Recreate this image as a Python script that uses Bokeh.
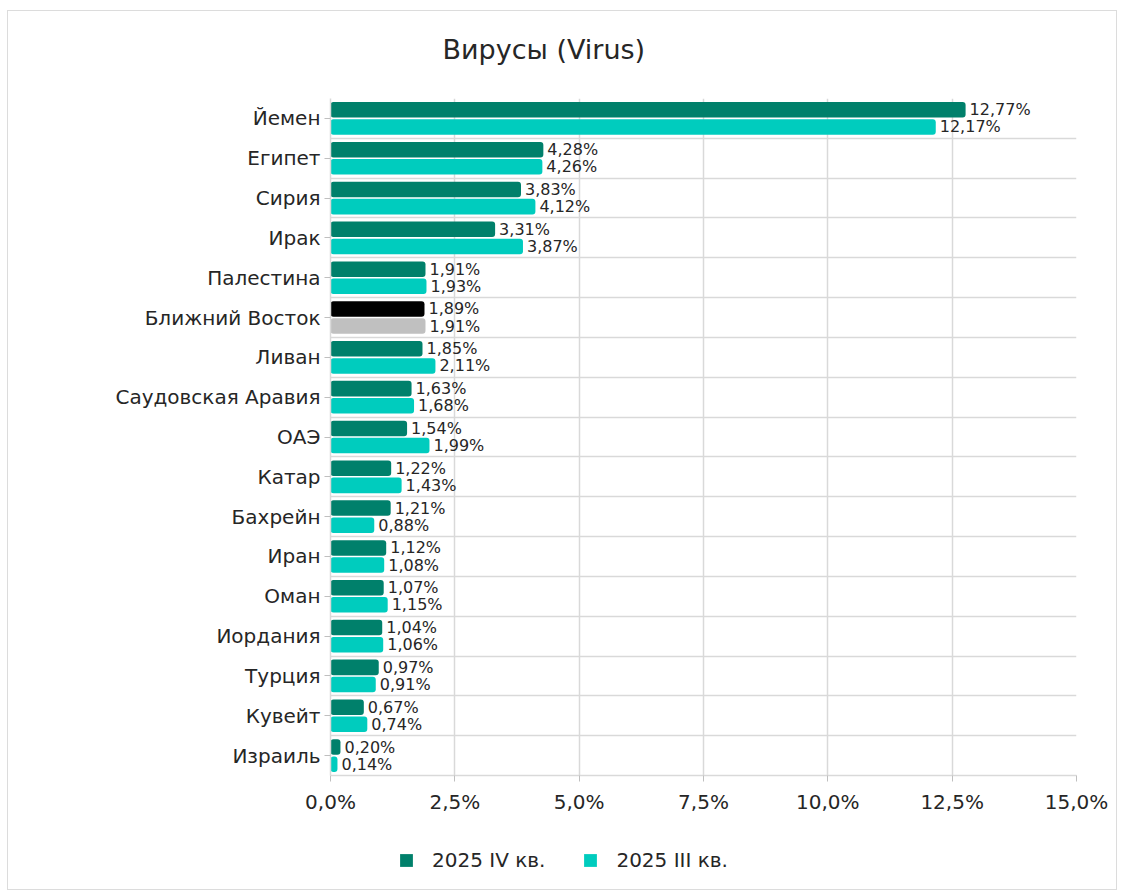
from bokeh.plotting import figure
from bokeh.layouts import column
from bokeh.models import ColumnDataSource, Range1d, FixedTicker, Legend, LegendItem
from bokeh.core.properties import value
from bokeh.embed import file_html
from bokeh.resources import INLINE

# ---- data ----
title_text = "Вирусы (Virus)"
countries = ["Йемен", "Египет", "Сирия", "Ирак", "Палестина", "Ближний Восток", "Ливан",
             "Саудовская Аравия", "ОАЭ", "Катар", "Бахрейн", "Иран", "Оман", "Иордания",
             "Турция", "Кувейт", "Израиль"]
q4_2025 = [12.77, 4.28, 3.83, 3.31, 1.91, 1.89, 1.85, 1.63, 1.54, 1.22, 1.21, 1.12, 1.07, 1.04, 0.97, 0.67, 0.20]
q3_2025 = [12.17, 4.26, 4.12, 3.87, 1.93, 1.91, 2.11, 1.68, 1.99, 1.43, 0.88, 1.08, 1.15, 1.06, 0.91, 0.74, 0.14]
series_names = ["2025 IV кв.", "2025 III кв."]
highlight = "Ближний Восток"
x_ticks = [0, 2.5, 5, 7.5, 10, 12.5, 15]
x_tick_labels = ["0,0%", "2,5%", "5,0%", "7,5%", "10,0%", "12,5%", "15,0%"]

# ---- styles ----
FONT = "DejaVu Sans"
DARK = "#00806b"
CYAN = "#00ccbe"
HL_DARK = "#000000"
HL_LIGHT = "#c0c0c0"
TEXT = "#262626"
GRID = "#d9d9d9"


def fmt(v):
    return f"{v:.2f}".replace(".", ",") + "%"


def strip(h):
    f = figure(width=1108, height=h, x_range=Range1d(0, 1), y_range=Range1d(0, 1),
               output_backend="svg", toolbar_location=None,
               x_axis_location=None, y_axis_location=None, min_border=0)
    f.outline_line_color = None
    f.grid.visible = False
    f.background_fill_color = "white"
    f.border_fill_color = "white"
    return f


n = len(countries)
ypos = [n - 1 - i for i in range(n)]
off = 0.215
bar_h = 0.39

src4 = ColumnDataSource(dict(
    y=[y + off for y in ypos], v=q4_2025,
    c=[HL_DARK if c == highlight else DARK for c in countries],
    t=[fmt(v) for v in q4_2025]))
src3 = ColumnDataSource(dict(
    y=[y - off for y in ypos], v=q3_2025,
    c=[HL_LIGHT if c == highlight else CYAN for c in countries],
    t=[fmt(v) for v in q3_2025]))

# ---- title strip ----
pt = strip(87)
pt.title.text = title_text
pt.title.align = "left"
pt.title.offset = 112
pt.title.text_font = FONT
pt.title.text_font_size = "27px"
pt.title.text_font_style = "normal"
pt.title.text_color = TEXT
pt.title.standoff = 40

# ---- main chart ----
p = figure(width=1108, height=732, x_range=Range1d(0, 15), y_range=Range1d(-0.5, n - 0.5),
           output_backend="svg", toolbar_location=None,
           min_border_left=322, min_border_right=40, min_border_top=0, min_border_bottom=55)
p.outline_line_color = None
p.background_fill_color = "white"
p.border_fill_color = "white"

r4 = p.hbar(y="y", left=0, right="v", height=bar_h, fill_color="c", line_color=None,
            border_radius=3, source=src4)
r3 = p.hbar(y="y", left=0, right="v", height=bar_h, fill_color="c", line_color=None,
            border_radius=3, source=src3)

for s in (src4, src3):
    p.text(x="v", y="y", text="t", source=s, x_offset=4, text_baseline="middle",
           text_align="left", text_font=value(FONT), text_font_size="16px", text_color=TEXT)

p.xaxis.ticker = FixedTicker(ticks=x_ticks)
p.xaxis.major_label_overrides = {t: l for t, l in zip(x_ticks, x_tick_labels)}
p.yaxis.ticker = FixedTicker(ticks=ypos)
p.yaxis.major_label_overrides = {y: c for y, c in zip(ypos, countries)}
for ax in (p.xaxis, p.yaxis):
    ax.axis_line_color = GRID
    ax.axis_line_width = 1.5
    ax.major_tick_line_color = "#bfbfbf"
    ax.major_tick_out = 6
    ax.major_tick_in = 0
    ax.minor_tick_line_color = None
    ax.major_label_text_font = FONT
    ax.major_label_text_font_size = "20px"
    ax.major_label_text_color = TEXT
p.xaxis.major_label_standoff = 8
p.yaxis.major_label_standoff = 4

p.xgrid.ticker = FixedTicker(ticks=x_ticks)
p.ygrid.ticker = FixedTicker(ticks=[y + 0.5 for y in range(n - 1)])
p.xgrid.grid_line_color = GRID
p.ygrid.grid_line_color = GRID
p.xgrid.grid_line_width = 1.5
p.ygrid.grid_line_width = 1.5

# ---- legend strip (keys only; their marks sit outside the visible range) ----
pl = strip(59)
k4 = pl.hbar(y=[-5], left=[0], right=[1], height=1, fill_color=DARK, line_color=None)
k3 = pl.hbar(y=[-5], left=[0], right=[1], height=1, fill_color=CYAN, line_color=None)
legend = Legend(items=[LegendItem(label=series_names[0], renderers=[k4]),
                       LegendItem(label=series_names[1], renderers=[k3])],
                orientation="horizontal", location=(68, 17), border_line_color=None,
                background_fill_alpha=0, label_text_font=FONT, label_text_font_size="20px",
                label_text_color=TEXT, glyph_width=16, glyph_height=16, spacing=37,
                label_standoff=18, padding=0, margin=0)
pl.add_layout(legend, "center")

layout = column(pt, p, pl, spacing=0)
layout.styles = {"border": "1px solid #dcdcdc"}
layout.margin = (10, 0, 0, 7)

open("out.html", "w").write(file_html(layout, INLINE))
